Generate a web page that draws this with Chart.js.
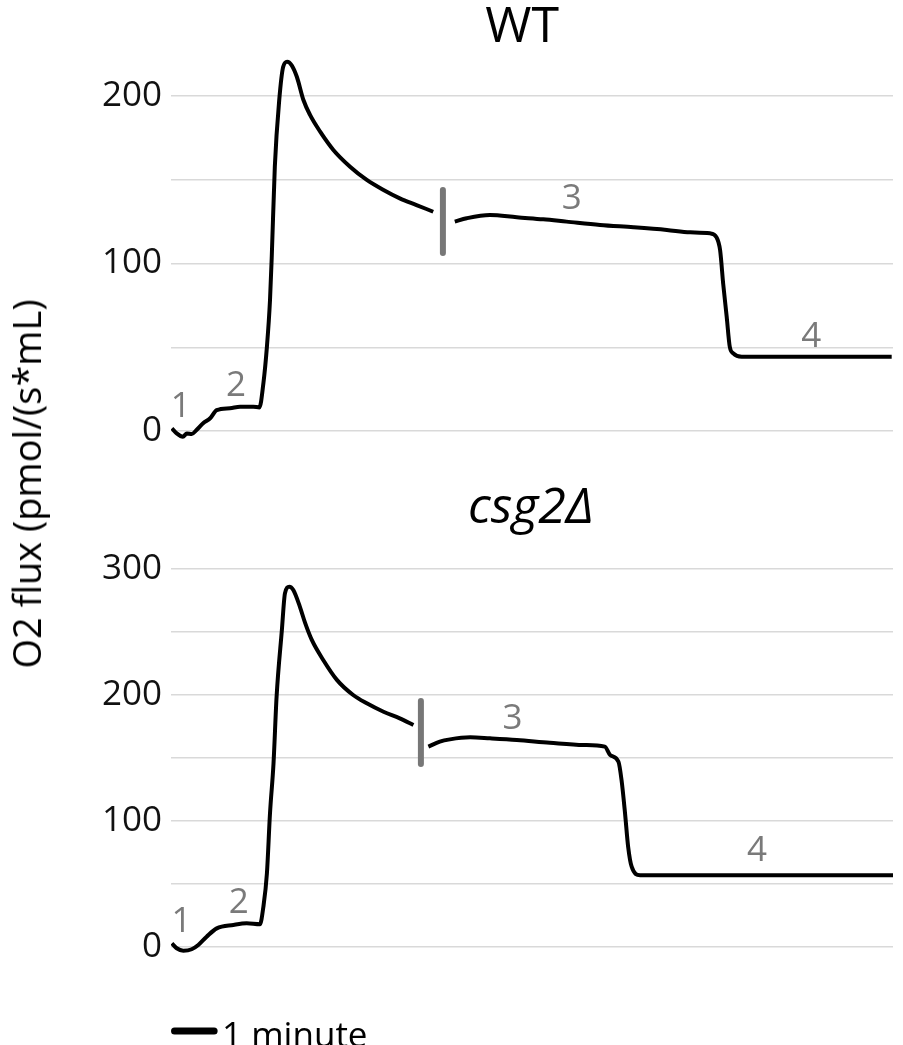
<!DOCTYPE html>
<html>
<head>
<meta charset="utf-8">
<script src="https://cdn.jsdelivr.net/npm/chart.js@4.4.0/dist/chart.umd.min.js"></script>
<style>
  html, body { margin: 0; padding: 0; background: #fff; }
  body { width: 903px; height: 1045px; position: relative; overflow: hidden; font-family: "Open Sans", sans-serif; }
  .panel { position: absolute; left: 0; width: 903px; }
  #wrapWT { top: 0; height: 480px; }
  #wrapCsg { top: 470px; height: 575px; }
  #ylabel {
    position: absolute; left: 26px; top: 483.5px;
    transform: translate(-50%, -50%) rotate(-90deg);
    white-space: nowrap; font-size: 38px; line-height: 38px; color: #000;
  }
</style>
</head>
<body>
<div class="panel" id="wrapWT"><canvas id="wt"></canvas></div>
<div class="panel" id="wrapCsg"><canvas id="csg"></canvas></div>
<div id="ylabel">O2 flux (pmol/(s*mL)</div>
<script>
// time in minutes, flux in pmol/(s*mL); null = break in the trace
const xMax = 16.41;

const wtTime = [0.02, 0.13, 0.27, 0.36, 0.47, 0.58, 0.73, 0.89, 1.04, 1.34, 1.57, 1.87, 2.01,
  2.10, 2.18, 2.25, 2.29, 2.36, 2.46, 2.55, 2.64, 2.74, 2.86, 3.01, 3.16, 3.39, 3.69, 4.07,
  4.45, 4.83, 5.20, 5.58, 5.96, 6.20, 6.45, 6.72, 7.25, 7.86, 8.46, 8.99, 9.75, 10.51, 11.27,
  11.80, 12.25, 12.40, 12.48, 12.55, 12.63, 12.70, 12.78, 12.97, 16.38];
const wtFlux = [1.6, -1.4, -3.4, -1.5, -1.8, 0.6, 4.6, 7.6, 12.5, 13.6, 14.5, 14.5, 14.1,
  28.5, 50.3, 78, 104, 158, 197.6, 217.5, 220.5, 218.5, 211.5, 197.6, 188.7, 178.7, 167.8, 157.8,
  149.9, 143.9, 138.9, 134.9, 130.9, null, 125, 127, 129, 127.6, 126.4, 125, 123, 121.6, 120,
  118.6, 118, 115.6, 108, 88, 68.2, 50.3, 46.4, 44.4, 44.4];

const csgTime = [0.02, 0.13, 0.28, 0.47, 0.62, 0.81, 1.04, 1.42, 1.72, 2.02, 2.10, 2.18, 2.25,
  2.33, 2.40, 2.52, 2.59, 2.69, 2.78, 2.93, 3.05, 3.20, 3.46, 3.77, 4.14, 4.45, 4.83, 5.20, 5.51,
  5.68, 5.85, 6.11, 6.34, 6.80, 7.25, 7.86, 8.61, 9.38, 9.86, 9.98, 10.17, 10.24, 10.32, 10.39,
  10.47, 10.66, 16.41];
const csgFlux = [2.9, -1, -2.9, -1.8, 1.6, 8.2, 14.8, 17.5, 18.8, 18, 32, 58.5, 106,
  145.8, 198.7, 251.6, 280.7, 286, 283.3, 270, 257, 243.7, 227.8, 212, 200, 193.4, 186.7, 181.5, 176.2,
  null, 159, 163, 164.8, 166.4, 165.6, 164.3, 162.1, 160.3, 159, 152.4, 147, 132.5, 106, 79.6,
  63.7, 57, 57];

// grey bar where the trace was cut
const wtBreakTime = 6.18;
const wtBreakFlux = [106.3, 143.9];
const csgBreakTime = 5.68;
const csgBreakFlux = [145.2, 195.2];

// step numbers
const stepNames = ['1', '2', '3', '4'];
const wtStepTime = [0.22, 1.48, 9.11, 14.55];
const wtStepFlux = [14.5, 27.0, 138.5, 56.3];
const csgStepTime = [0.24, 1.54, 7.76, 13.32];
const csgStepFlux = [20.1, 34.7, 181, 76.2];

const yTicksWT = [0, 100, 200];
const yTicksCsg = [0, 100, 200, 300];

const FONT = 'Open Sans';

function points(xs, ys) {
  return xs.map((x, i) => ({ x: x, y: ys[i] }));
}

// panel title + grey step numbers
function annotatePlugin(o) {
  return {
    id: 'annotate',
    afterDatasetsDraw(chart) {
      const ctx = chart.ctx;
      const xs = chart.scales.x, ys = chart.scales.y;
      const area = chart.chartArea;
      ctx.save();
      // title, placed above the plot area
      ctx.fillStyle = '#000';
      ctx.font = o.titleFont;
      ctx.textAlign = 'center';
      ctx.textBaseline = 'alphabetic';
      ctx.fillText(o.title, xs.getPixelForValue(o.titleAt), area.top - o.titleLift);
      // step numbers
      ctx.fillStyle = '#7a7a7a';
      ctx.font = '35px "' + FONT + '"';
      ctx.textBaseline = 'middle';
      stepNames.forEach((s, i) => {
        ctx.fillText(s, xs.getPixelForValue(o.stepTime[i]), ys.getPixelForValue(o.stepFlux[i]));
      });
      ctx.restore();
    }
  };
}

// "1 minute" scale bar, length taken from the x scale
const scaleBarPlugin = {
  id: 'scaleBar',
  afterDraw(chart) {
    const ctx = chart.ctx;
    const xs = chart.scales.x;
    const x0 = xs.getPixelForValue(0.08);
    const x1 = xs.getPixelForValue(0.98);
    const y = chart.chartArea.bottom + 71.5;
    ctx.save();
    ctx.strokeStyle = '#000';
    ctx.lineWidth = 7;
    ctx.lineCap = 'round';
    ctx.beginPath();
    ctx.moveTo(x0, y);
    ctx.lineTo(x1, y);
    ctx.stroke();
    ctx.fillStyle = '#000';
    ctx.font = '35px "' + FONT + '"';
    ctx.textBaseline = 'alphabetic';
    ctx.fillText('1 minute', x1 + 8, y + 16);
    ctx.restore();
  }
};

function makeChart(id, o) {
  return new Chart(document.getElementById(id), {
    type: 'line',
    data: {
      datasets: [
        {
          data: points(o.time, o.flux),
          borderColor: '#000',
          borderWidth: 4,
          pointRadius: 0,
          cubicInterpolationMode: 'monotone',
          spanGaps: false,
        },
        {
          data: points([o.breakTime, o.breakTime], o.breakFlux),
          borderColor: '#777',
          borderWidth: 6,
          borderCapStyle: 'round',
          pointRadius: 0,
        },
      ],
    },
    options: {
      animation: false,
      responsive: true,
      maintainAspectRatio: false,
      devicePixelRatio: 1,
      layout: { padding: o.padding },
      plugins: {
        legend: { display: false },
        tooltip: { enabled: false },
        title: { display: false },
      },
      scales: {
        x: { type: 'linear', min: 0, max: xMax, display: false },
        y: {
          min: -10,
          max: o.yMax,
          afterFit: s => { s.width = 171; },
          border: { display: false },
          grid: { color: '#d9d9d9', lineWidth: 1.5, drawTicks: false },
          ticks: {
            stepSize: 50,
            includeBounds: false,
            padding: 9,
            color: '#111',
            font: { family: FONT, size: 35 },
            callback: v => (o.labels.includes(v) ? v : ''),
          },
        },
      },
    },
    plugins: o.plugins,
  });
}

makeChart('wt', {
  time: wtTime, flux: wtFlux,
  breakTime: wtBreakTime, breakFlux: wtBreakFlux,
  yMax: 230, labels: yTicksWT,
  padding: { top: 45.75, right: 10, bottom: 32.25, left: 0 },
  plugins: [annotatePlugin({
    title: 'WT', titleFont: '50px "' + FONT + '"', titleAt: 7.98, titleLift: 4,
    stepTime: wtStepTime, stepFlux: wtStepFlux,
  })],
});

makeChart('csg', {
  time: csgTime, flux: csgFlux,
  breakTime: csgBreakTime, breakFlux: csgBreakFlux,
  yMax: 310, labels: yTicksCsg,
  padding: { top: 86.4, right: 10, bottom: 85.4, left: 0 },
  plugins: [annotatePlugin({
    title: 'csg2Δ', titleFont: 'italic 50px "' + FONT + '"', titleAt: 8.18, titleLift: 33.4,
    stepTime: csgStepTime, stepFlux: csgStepFlux,
  }), scaleBarPlugin],
});
</script>
</body>
</html>
